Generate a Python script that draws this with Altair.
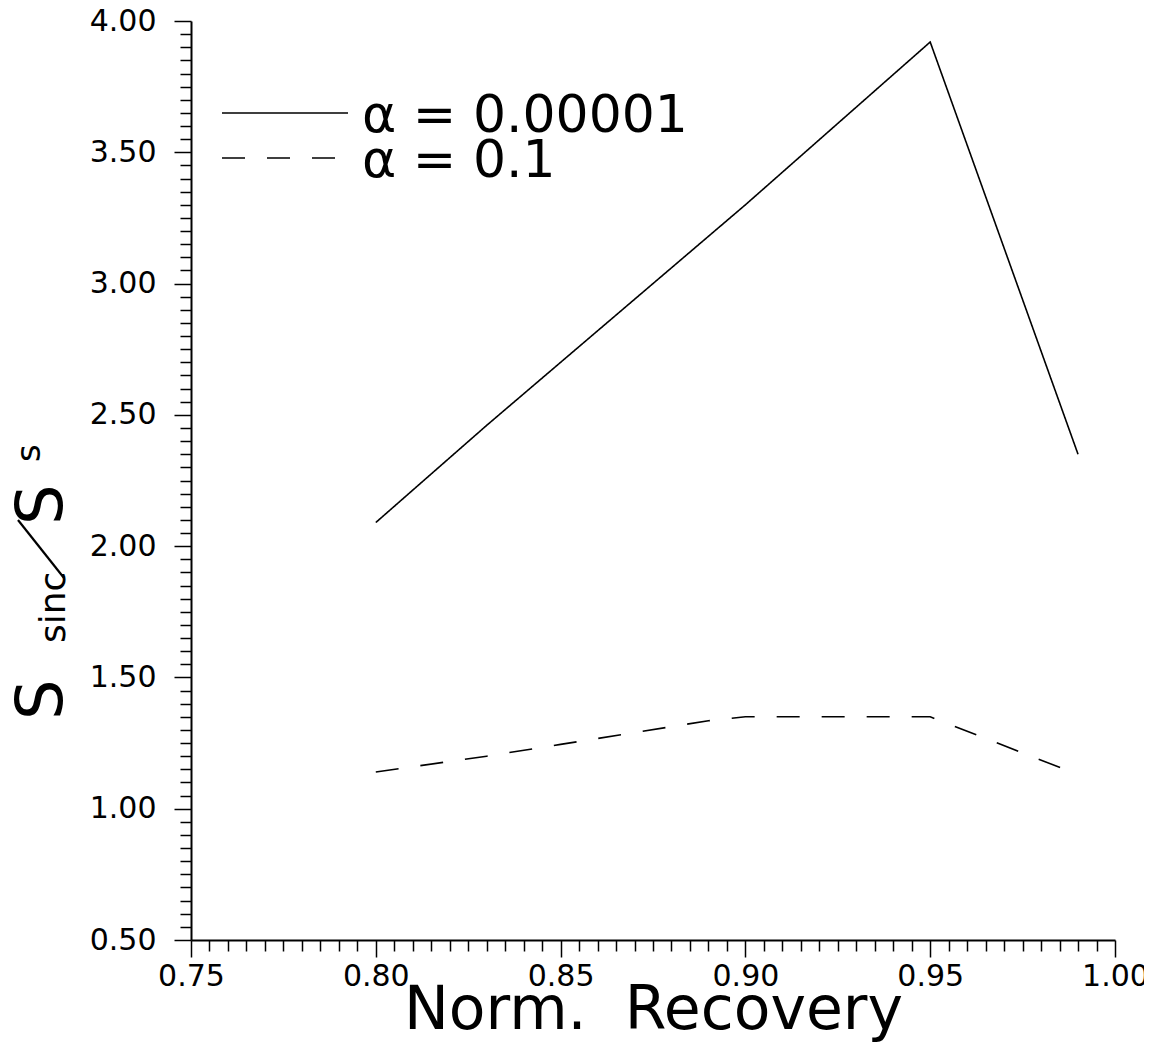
import altair as alt
import pandas as pd

# ---- data ----
x_solid = [0.80, 0.83, 0.85, 0.90, 0.95, 0.99]
y_solid = [2.09, 2.46, 2.70, 3.30, 3.92, 2.35]
x_dashed = [0.80, 0.83, 0.85, 0.87, 0.89, 0.90, 0.95, 0.99]
y_dashed = [1.14, 1.20, 1.245, 1.29, 1.335, 1.35, 1.35, 1.13]
NB = "\u00a0"
series_labels = ["\u03b1" + NB + "=" + NB + "0.00001", "\u03b1" + NB + "=" + NB + "0.1"]
series_dash = [[1, 0], [23, 22]]

x_major = [0.75, 0.80, 0.85, 0.90, 0.95, 1.00]
y_major = [0.50, 1.00, 1.50, 2.00, 2.50, 3.00, 3.50, 4.00]
x_minor_step = 0.005
y_minor_step = 0.05

x_ticks = [round(x_major[0] + x_minor_step * i, 4) for i in range(int(round((x_major[-1] - x_major[0]) / x_minor_step)) + 1)]
y_ticks = [round(y_major[0] + y_minor_step * i, 4) for i in range(int(round((y_major[-1] - y_major[0]) / y_minor_step)) + 1)]

df = pd.concat([
    pd.DataFrame({"x": x_solid, "y": y_solid, "series": series_labels[0]}),
    pd.DataFrame({"x": x_dashed, "y": y_dashed, "series": series_labels[1]}),
], ignore_index=True)

FONT = "DejaVu Sans"
xtest = "abs(datum.value*20 - round(datum.value*20)) < 0.001"
ytest = "abs(datum.value*2 - round(datum.value*2)) < 0.001"

xaxis = alt.Axis(
    values=x_ticks,
    labelExpr=f"({xtest}) ? format(datum.value, '.2f') : ''",
    tickSize={"condition": {"test": xtest, "value": 17}, "value": 11},
    labelPadding=4,
    labelOverlap=False,
    labelFlush=False,
    grid=False,
    title="Norm." + NB * 2 + "Recovery",
    titleFontSize=60,
    titleFont=FONT,
    titleFontWeight="normal",
    titleColor="black",
    titlePadding=-10,
)
yaxis = alt.Axis(
    values=y_ticks,
    labelExpr=f"({ytest}) ? format(datum.value, '.2f') : ''",
    tickSize={"condition": {"test": ytest, "value": 17}, "value": 11},
    labelPadding=18,
    labelOverlap=False,
    labelFlush=False,
    grid=False,
    title=None,
)

lines = alt.Chart(df).mark_line(color="black", strokeWidth=1.6).encode(
    x=alt.X("x:Q", scale=alt.Scale(domain=[0.75, 1.0], nice=False, zero=False), axis=xaxis),
    y=alt.Y("y:Q", scale=alt.Scale(domain=[0.5, 4.0], nice=False, zero=False), axis=yaxis),
    strokeDash=alt.StrokeDash(
        "series:N",
        scale=alt.Scale(domain=series_labels, range=series_dash),
        legend=None,
    ),
)

one = pd.DataFrame({"k": [0]})

# ---- legend (drawn as a key in the upper-left of the plot area) ----
legend_layers = []
row_y = [92, 137]
for i, lab in enumerate(series_labels):
    legend_layers.append(
        alt.Chart(one).mark_rule(color="black", strokeWidth=1.6, strokeDash=series_dash[i]).encode(
            x=alt.value(31), x2=alt.value(157), y=alt.value(row_y[i]), y2=alt.value(row_y[i])
        )
    )
    legend_layers.append(
        alt.Chart(one).mark_text(
            text=lab, align="left", baseline="alphabetic", font=FONT, fontSize=52, color="black"
        ).encode(x=alt.value(171), y=alt.value(row_y[i] + 19))
    )

# ---- y-axis title S_sinc / S_s ----
def ytitle_piece(txt, size, bx, by):
    return alt.Chart(one).mark_text(
        text=txt, angle=270, align="left", baseline="alphabetic",
        font=FONT, fontSize=size, color="black",
    ).encode(x=alt.value(bx), y=alt.value(by))

slash = alt.Chart(one).mark_rule(color="black", strokeWidth=2.2).encode(
    x=alt.value(-127), y=alt.value(557), x2=alt.value(-173), y2=alt.value(499)
)

title_layers = [
    ytitle_piece("S", 64, -129, 699),
    ytitle_piece("sinc", 36, -126, 622),
    slash,
    ytitle_piece("S", 64, -129, 504),
    ytitle_piece("s", 34, -151, 441),
]

chart = alt.layer(lines, *legend_layers, *title_layers).properties(
    width=924,
    height=919,
    autosize=alt.AutoSizeParams(type="none"),
    padding={"left": 183, "top": 13, "right": 29, "bottom": 105},
).configure_view(stroke=None).configure_axis(
    domainColor="black",
    domainWidth=2,
    tickColor="black",
    tickWidth=1.5,
    labelColor="black",
    labelFont=FONT,
    labelFontSize=30,
)

chart.save("out.html", embed_options={"renderer": "svg", "actions": False})
